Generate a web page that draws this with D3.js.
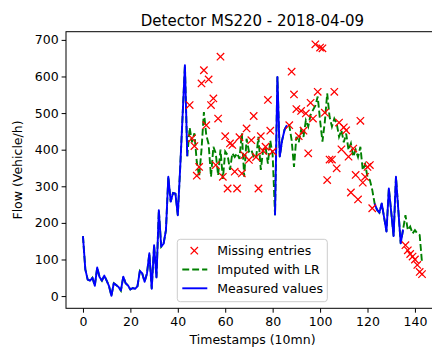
<!DOCTYPE html>
<html>
<head>
<meta charset="utf-8">
<script src="https://cdn.jsdelivr.net/npm/d3@7"></script>
<style>
  body { margin: 0; background: #fff; }
  text { font-family: "DejaVu Sans", sans-serif; fill: #000; }
</style>
</head>
<body>
<div id="chart"></div>
<script>
// measured flow, three runs (start index, values)
const measuredStarts = [0, 81, 123];
const measuredA = [164,73,45,42,50,28,78,52,42,56,
  42,27,1,35,30,25,15,53,35,29,
  18,22,20,27,69,62,39,62,117,20,
  139,51,235,135,143,180,326,258,282,280,
  221,350,490,631,382];
const measuredB = [221,599,381,426,454,467];
const measuredC = [253,236,228,253,215,176,294,230,164,326,235,144,182];

// gaps: start index of each gap
const gapStarts = [45, 87, 136];
// imputed with linear regression
const imputedA = [460,420,445,367,326,400,503,440,415,326,
  408,390,330,400,320,395,385,345,390,380,
  390,375,445,326,430,395,400,380,376,435,
  345,400,408,362,425,385];
const imputedB = [467,426,353,435,420,454,435,480,463,495,
  508,520,545,480,422,476,554,490,463,485,
  472,435,453,420,444,399,417,381,400,380,
  408,344,360,326,317,290];
const imputedC = [221,180,190,171,180,171,167,90];
// true values of the missing entries
const missingA = [522,431,410,329,353,581,617,467,592,522,
  540,358,485,654,326,437,294,417,413,340,
  294,434,335,385,458,372,426,492,380,294,
  437,397,408,536,452,395];
const missingB = [467,613,551,511,437,506,452,499,390,528,
  485,688,558,679,677,501,317,373,373,558,
  349,474,401,461,453,381,283,403,331,264,
  479,310,326,353,358,240];
const missingC = [139,125,115,108,100,85,66,60];

const xTicks = [0,20,40,60,80,100,120,140];
const yTicks = [0,100,200,300,400,500,600,700];

const N = 144;
const measured = new Array(N).fill(null);
const imputed = new Array(N).fill(null);
const missing = new Array(N).fill(null);
[measuredA, measuredB, measuredC].forEach((arr, k) => arr.forEach((v, j) => measured[measuredStarts[k] + j] = v));
[imputedA, imputedB, imputedC].forEach((arr, k) => arr.forEach((v, j) => imputed[gapStarts[k] + j] = v));
[missingA, missingB, missingC].forEach((arr, k) => arr.forEach((v, j) => missing[gapStarts[k] + j] = v));

const full = measured.map((v, i) => v !== null ? v : imputed[i]);

const W = 432, H = 347;
const margin = {left: 66, top: 31.7, right: 439, bottom: 308.3};
const fs = "12.5px";
const lw = 1.9;

const svg = d3.select("#chart").append("svg")
  .attr("width", W).attr("height", H);

// matplotlib-like 5% margins
const allY = [...full, ...missing].filter(v => v !== null);
const [yMin, yMax] = d3.extent(allY);
const yPad = 0.05 * (yMax - yMin);
const xPad = 0.05 * (N - 1);

const x = d3.scaleLinear().domain([-xPad, N - 1 + xPad]).range([margin.left, margin.right]);
const y = d3.scaleLinear().domain([yMin - yPad, yMax + yPad]).range([margin.bottom, margin.top]);

svg.append("clipPath").attr("id", "clip")
  .append("rect").attr("x", margin.left).attr("y", margin.top)
  .attr("width", margin.right - margin.left).attr("height", margin.bottom - margin.top);

const plot = svg.append("g").attr("clip-path", "url(#clip)");

// imputed line (under measured)
plot.append("path")
  .datum(full.map((v, i) => [i, v]))
  .attr("fill", "none")
  .attr("stroke", "#008000")
  .attr("stroke-width", lw)
  .attr("stroke-dasharray", "6.9,3")
  .attr("d", d3.line().x(d => x(d[0])).y(d => y(d[1])));

// measured line
plot.append("path")
  .datum(measured.map((v, i) => [i, v]))
  .attr("fill", "none")
  .attr("stroke", "#0000ff")
  .attr("stroke-width", lw)
  .attr("stroke-linejoin", "round")
  .attr("d", d3.line().defined(d => d[1] !== null).x(d => x(d[0])).y(d => y(d[1])));

// missing entries markers
const s = 3.7;
const xMark = `M${-s},${-s}L${s},${s}M${-s},${s}L${s},${-s}`;
plot.append("g")
  .selectAll("path")
  .data(missing.map((v, i) => [i, v]).filter(d => d[1] !== null))
  .join("path")
  .attr("transform", d => `translate(${x(d[0])},${y(d[1])})`)
  .attr("d", xMark)
  .attr("stroke", "#ff0000")
  .attr("stroke-width", 1.25);

// frame
svg.append("rect")
  .attr("x", margin.left).attr("y", margin.top)
  .attr("width", margin.right - margin.left).attr("height", margin.bottom - margin.top)
  .attr("fill", "none").attr("stroke", "#000").attr("stroke-width", 1);

// axes
const xAxis = svg.append("g")
  .attr("transform", `translate(0,${margin.bottom})`)
  .call(d3.axisBottom(x).tickValues(xTicks).tickSize(4.4).tickPadding(4.5).tickSizeOuter(0));
const yAxis = svg.append("g")
  .attr("transform", `translate(${margin.left},0)`)
  .call(d3.axisLeft(y).tickValues(yTicks).tickSize(4.4).tickPadding(3).tickSizeOuter(0));
[xAxis, yAxis].forEach(a => {
  a.select(".domain").remove();
  a.selectAll("line").attr("stroke", "#000").attr("stroke-width", 1);
  a.selectAll("text").style("font-size", fs).style("font-family", "DejaVu Sans").attr("fill", "#000");
});

// title and labels
svg.append("text")
  .attr("x", (margin.left + margin.right) / 2).attr("y", 26)
  .attr("text-anchor", "middle")
  .style("font-size", "15px")
  .text("Detector MS220 - 2018-04-09");

svg.append("text")
  .attr("x", (margin.left + margin.right) / 2).attr("y", 343.5)
  .attr("text-anchor", "middle")
  .style("font-size", fs)
  .text("Timestamps (10mn)");

svg.append("text")
  .attr("transform", `translate(22,${(margin.top + margin.bottom) / 2}) rotate(-90)`)
  .attr("text-anchor", "middle")
  .style("font-size", fs)
  .text("Flow (Vehicle/h)");

// legend
const legend = svg.append("g").attr("transform", "translate(177.3,239.3)");
legend.append("rect")
  .attr("width", 150).attr("height", 62.4).attr("rx", 3)
  .attr("fill", "#fff").attr("fill-opacity", 0.8)
  .attr("stroke", "#cccccc").attr("stroke-width", 1);

const legendItems = [
  {label: "Missing entries", type: "marker"},
  {label: "Imputed with LR", type: "dash"},
  {label: "Measured values", type: "line"}
];
const rows = legend.selectAll("g.item").data(legendItems).join("g")
  .attr("class", "item")
  .attr("transform", (d, i) => `translate(0,${11.4 + i * 18.8})`);
rows.filter(d => d.type === "marker").append("path")
  .attr("transform", "translate(17,0)")
  .attr("d", xMark).attr("stroke", "#ff0000").attr("stroke-width", 1.25);
rows.filter(d => d.type === "dash").append("line")
  .attr("x1", 5).attr("x2", 30)
  .attr("stroke", "#008000").attr("stroke-width", lw).attr("stroke-dasharray", "6.9,3");
rows.filter(d => d.type === "line").append("line")
  .attr("x1", 5).attr("x2", 30)
  .attr("stroke", "#0000ff").attr("stroke-width", lw);
rows.append("text")
  .attr("x", 40).attr("dy", "0.35em")
  .style("font-size", fs)
  .text(d => d.label);
</script>
</body>
</html>
